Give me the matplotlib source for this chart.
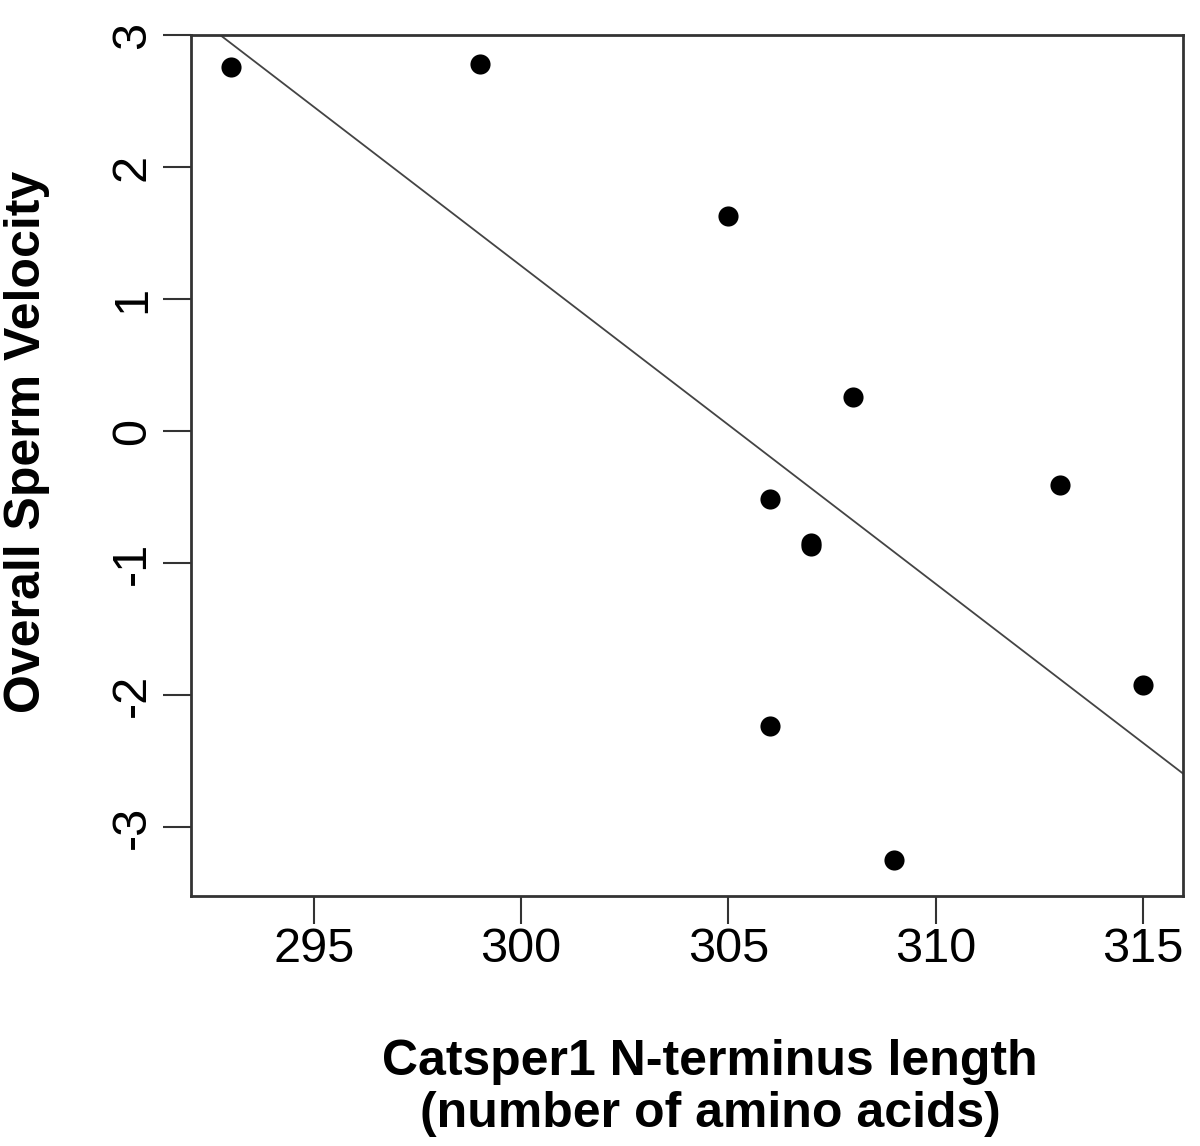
import numpy as np
import matplotlib
matplotlib.use("Agg")
import matplotlib.pyplot as plt

plt.rcParams['font.family'] = ['Liberation Sans', 'DejaVu Sans']

length_aa = [293, 299, 305, 306, 306, 307, 307, 308, 309, 313, 315]
velocity = [2.76, 2.78, 1.63, -0.51, -2.23, -0.85, -0.87, 0.26, -3.25, -0.41, -1.92]
x_ticks = [295, 300, 305, 310, 315]
y_ticks = [-3, -2, -1, 0, 1, 2, 3]

fig = plt.figure(figsize=(12, 11.46), dpi=100)
ax = fig.add_axes([191/1200, 1-896/1146, (1183-191)/1200, (896-35)/1146])

ax.scatter(length_aa, velocity, s=210, color='black', zorder=3, linewidths=0)

slope, intercept = np.polyfit(length_aa, velocity, 1)
xlim = (292.04, 315.96)
xx = np.array(xlim)
ax.plot(xx, slope*xx + intercept, color='#444444', lw=1.3, zorder=2)

ax.set_xlim(*xlim)
ax.set_ylim(-3.52, 3.0)
ax.set_xticks(x_ticks)
ax.set_yticks(y_ticks)
ax.set_xticklabels([str(v) for v in x_ticks], fontsize=35)
ax.set_yticklabels([str(v) for v in y_ticks], fontsize=35, rotation=90, va='center')
ax.tick_params(axis='both', direction='out', length=20, width=1.5, color='#333333')
ax.tick_params(axis='x', pad=2)
ax.tick_params(axis='y', pad=6)
for sp in ax.spines.values():
    sp.set_linewidth(2)
    sp.set_color('#333333')

fig.text(710/1200, 1-1088/1146, 'Catsper1 N-terminus length\n(number of amino acids)',
         ha='center', va='center', fontsize=36, fontweight='bold', linespacing=1.15)
fig.text(27/1200, 1-442/1146, 'Overall Sperm Velocity', ha='center', va='center',
         rotation=90, fontsize=36, fontweight='bold')

fig.savefig('out.png', dpi=100)
